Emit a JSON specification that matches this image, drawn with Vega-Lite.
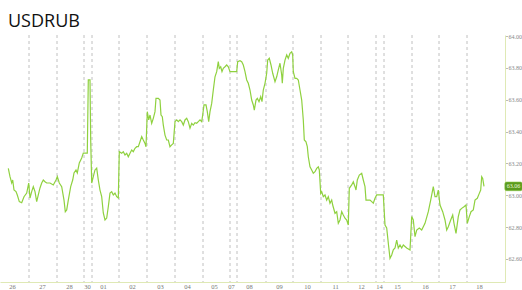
{
  "$schema": "https://vega.github.io/schema/vega-lite/v6.json",
  "width": 505,
  "height": 247,
  "autosize": "none",
  "padding": {"left": 0, "top": 35, "right": 17, "bottom": 8},
  "background": "white",
  "config": {"view": {"stroke": null}, "axis": {"grid": false, "labelOverlap": false, "labelFlush": false}},
  "title": {"text": "USDRUB", "anchor": "start", "font": "Open Sans", "fontSize": 18, "fontWeight": "normal", "color": "#111111", "baseline": "alphabetic", "offset": 9, "dx": 8, "dy": 21},
  "datasets": {
    "days": [{"t": 29}, {"t": 57}, {"t": 84}, {"t": 92}, {"t": 119}, {"t": 147}, {"t": 175}, {"t": 203}, {"t": 230}, {"t": 237}, {"t": 266}, {"t": 293}, {"t": 321}, {"t": 348}, {"t": 376}, {"t": 384}, {"t": 412}, {"t": 439}, {"t": 467}],
    "usdrub": [
      {"t": 8.3, "v": 63.169}, {"t": 10, "v": 63.117}, {"t": 11.7, "v": 63.077}, {"t": 12.7, "v": 63.096}, {"t": 14, "v": 63.033},
      {"t": 16, "v": 63.023}, {"t": 17.3, "v": 63.002}, {"t": 19.3, "v": 62.96}, {"t": 21.7, "v": 62.953}, {"t": 24, "v": 62.991},
      {"t": 26.7, "v": 63.014}, {"t": 28.7, "v": 63.077}, {"t": 30, "v": 62.983}, {"t": 31.7, "v": 63.023}, {"t": 33.3, "v": 63.054},
      {"t": 35, "v": 63.023}, {"t": 36.7, "v": 62.96}, {"t": 38.3, "v": 63.002}, {"t": 40, "v": 63.046}, {"t": 41.7, "v": 63.077},
      {"t": 43.3, "v": 63.096}, {"t": 45, "v": 63.085}, {"t": 46.7, "v": 63.077}, {"t": 50, "v": 63.077}, {"t": 53.3, "v": 63.065},
      {"t": 56, "v": 63.096}, {"t": 57.3, "v": 63.117}, {"t": 59.3, "v": 63.077}, {"t": 61.7, "v": 63.054}, {"t": 64, "v": 62.97},
      {"t": 65.3, "v": 62.897}, {"t": 66.7, "v": 62.908}, {"t": 68.3, "v": 62.97}, {"t": 70.7, "v": 63.054}, {"t": 72.7, "v": 63.096},
      {"t": 74, "v": 63.14}, {"t": 76, "v": 63.159}, {"t": 77.3, "v": 63.14}, {"t": 79.3, "v": 63.203}, {"t": 81.7, "v": 63.234},
      {"t": 83.3, "v": 63.265}, {"t": 87.3, "v": 63.265}, {"t": 88.3, "v": 63.724}, {"t": 90, "v": 63.724}, {"t": 90.7, "v": 63.347},
      {"t": 91.7, "v": 63.077}, {"t": 93.3, "v": 63.117}, {"t": 95, "v": 63.159}, {"t": 96.7, "v": 63.171}, {"t": 98.3, "v": 63.096},
      {"t": 100, "v": 63.033}, {"t": 101.7, "v": 62.991}, {"t": 103.3, "v": 62.889}, {"t": 105, "v": 62.845}, {"t": 106.7, "v": 62.857},
      {"t": 108.3, "v": 62.928}, {"t": 110, "v": 63.014}, {"t": 111.7, "v": 63.023}, {"t": 113.3, "v": 63.002}, {"t": 115, "v": 63.014},
      {"t": 116.7, "v": 62.991}, {"t": 118.3, "v": 62.983}, {"t": 119.3, "v": 63.274}, {"t": 121.7, "v": 63.264}, {"t": 123.3, "v": 63.274},
      {"t": 125, "v": 63.253}, {"t": 126.7, "v": 63.264}, {"t": 128.3, "v": 63.242}, {"t": 130, "v": 63.264}, {"t": 131.7, "v": 63.284},
      {"t": 133.3, "v": 63.274}, {"t": 135, "v": 63.295}, {"t": 136.7, "v": 63.305}, {"t": 138.3, "v": 63.305}, {"t": 140, "v": 63.336},
      {"t": 141.7, "v": 63.368}, {"t": 143.3, "v": 63.347}, {"t": 145, "v": 63.326}, {"t": 146, "v": 63.305}, {"t": 147.3, "v": 63.525},
      {"t": 148.7, "v": 63.473}, {"t": 150, "v": 63.504}, {"t": 151.7, "v": 63.452}, {"t": 153.3, "v": 63.483}, {"t": 155, "v": 63.525},
      {"t": 156, "v": 63.609}, {"t": 158.3, "v": 63.609}, {"t": 160, "v": 63.598}, {"t": 161, "v": 63.504}, {"t": 162.3, "v": 63.493},
      {"t": 163.3, "v": 63.441}, {"t": 165, "v": 63.378}, {"t": 166.7, "v": 63.347}, {"t": 168.3, "v": 63.347}, {"t": 170, "v": 63.305},
      {"t": 171.7, "v": 63.316}, {"t": 173.3, "v": 63.326}, {"t": 175, "v": 63.462}, {"t": 176.7, "v": 63.473}, {"t": 178.3, "v": 63.462},
      {"t": 180, "v": 63.473}, {"t": 181.7, "v": 63.462}, {"t": 183.3, "v": 63.441}, {"t": 185, "v": 63.473}, {"t": 186.7, "v": 63.483},
      {"t": 188.3, "v": 63.462}, {"t": 190, "v": 63.421}, {"t": 191.7, "v": 63.452}, {"t": 193.3, "v": 63.441}, {"t": 195, "v": 63.456},
      {"t": 196.7, "v": 63.452}, {"t": 198.3, "v": 63.462}, {"t": 200, "v": 63.473}, {"t": 201.7, "v": 63.462}, {"t": 202.7, "v": 63.504},
      {"t": 204, "v": 63.567}, {"t": 206, "v": 63.567}, {"t": 207.3, "v": 63.525}, {"t": 208.7, "v": 63.462}, {"t": 210, "v": 63.525},
      {"t": 211.7, "v": 63.577}, {"t": 213.3, "v": 63.661}, {"t": 215, "v": 63.744}, {"t": 216.7, "v": 63.776}, {"t": 218.3, "v": 63.839},
      {"t": 219.3, "v": 63.797}, {"t": 220.7, "v": 63.807}, {"t": 222, "v": 63.776}, {"t": 223.3, "v": 63.797}, {"t": 225, "v": 63.807},
      {"t": 226.7, "v": 63.818}, {"t": 228.3, "v": 63.807}, {"t": 230, "v": 63.776}, {"t": 236.7, "v": 63.776}, {"t": 237.7, "v": 63.839},
      {"t": 240, "v": 63.845}, {"t": 241.7, "v": 63.839}, {"t": 243.3, "v": 63.818}, {"t": 245, "v": 63.776}, {"t": 246.7, "v": 63.724},
      {"t": 248.3, "v": 63.703}, {"t": 250, "v": 63.661}, {"t": 251.7, "v": 63.598}, {"t": 253.3, "v": 63.567}, {"t": 254.3, "v": 63.535},
      {"t": 256, "v": 63.598}, {"t": 257.3, "v": 63.609}, {"t": 259, "v": 63.588}, {"t": 260.7, "v": 63.619}, {"t": 262, "v": 63.588},
      {"t": 263.3, "v": 63.661}, {"t": 265, "v": 63.703}, {"t": 266.7, "v": 63.766}, {"t": 267.7, "v": 63.849}, {"t": 269.3, "v": 63.86},
      {"t": 271, "v": 63.818}, {"t": 272.7, "v": 63.766}, {"t": 275, "v": 63.713}, {"t": 276.7, "v": 63.744}, {"t": 278.3, "v": 63.787},
      {"t": 280, "v": 63.829}, {"t": 281.7, "v": 63.755}, {"t": 282.3, "v": 63.703}, {"t": 283.3, "v": 63.797}, {"t": 285, "v": 63.849},
      {"t": 286.7, "v": 63.881}, {"t": 288.3, "v": 63.86}, {"t": 290, "v": 63.891}, {"t": 291.7, "v": 63.901}, {"t": 292.7, "v": 63.881},
      {"t": 293.3, "v": 63.776}, {"t": 295, "v": 63.734}, {"t": 296.7, "v": 63.734}, {"t": 298.3, "v": 63.724}, {"t": 300, "v": 63.661},
      {"t": 301.7, "v": 63.598}, {"t": 303.3, "v": 63.473}, {"t": 304.3, "v": 63.347}, {"t": 306, "v": 63.336}, {"t": 307.3, "v": 63.305},
      {"t": 308.3, "v": 63.242}, {"t": 310, "v": 63.179}, {"t": 311.7, "v": 63.159}, {"t": 313.3, "v": 63.138}, {"t": 315, "v": 63.148},
      {"t": 316.7, "v": 63.169}, {"t": 318.3, "v": 63.179}, {"t": 319.3, "v": 63.159}, {"t": 320.7, "v": 63.012}, {"t": 321.7, "v": 63.023},
      {"t": 323.3, "v": 62.991}, {"t": 325, "v": 63.002}, {"t": 326.7, "v": 62.97}, {"t": 328.3, "v": 62.991}, {"t": 330, "v": 62.95},
      {"t": 331.7, "v": 62.97}, {"t": 332.7, "v": 62.939}, {"t": 335, "v": 62.887}, {"t": 336.7, "v": 62.897}, {"t": 338.3, "v": 62.824},
      {"t": 340, "v": 62.845}, {"t": 341.7, "v": 62.897}, {"t": 343.3, "v": 62.876}, {"t": 345, "v": 62.856}, {"t": 346.7, "v": 62.845},
      {"t": 348.3, "v": 62.813}, {"t": 349.3, "v": 63.044}, {"t": 351.7, "v": 63.065}, {"t": 353.3, "v": 63.085}, {"t": 355, "v": 63.054},
      {"t": 356, "v": 63.033}, {"t": 357.3, "v": 63.096}, {"t": 359.3, "v": 63.127}, {"t": 361.7, "v": 63.138}, {"t": 363.3, "v": 63.096},
      {"t": 365, "v": 63.054}, {"t": 366, "v": 62.97}, {"t": 368.3, "v": 62.97}, {"t": 370, "v": 62.97}, {"t": 371.7, "v": 62.96},
      {"t": 373.3, "v": 62.95}, {"t": 375, "v": 62.981}, {"t": 376.7, "v": 63.002}, {"t": 378.3, "v": 63.002}, {"t": 383.3, "v": 63.002},
      {"t": 385, "v": 62.813}, {"t": 386.7, "v": 62.795}, {"t": 388.5, "v": 62.688}, {"t": 390, "v": 62.604}, {"t": 391.7, "v": 62.625},
      {"t": 393.3, "v": 62.657}, {"t": 395, "v": 62.669}, {"t": 396.7, "v": 62.719}, {"t": 398.3, "v": 62.669}, {"t": 400, "v": 62.688},
      {"t": 401.7, "v": 62.669}, {"t": 403.3, "v": 62.688}, {"t": 406.7, "v": 62.669}, {"t": 410, "v": 62.657}, {"t": 411.7, "v": 62.866},
      {"t": 413.3, "v": 62.845}, {"t": 415, "v": 62.74}, {"t": 416.7, "v": 62.782}, {"t": 419.3, "v": 62.795}, {"t": 421.7, "v": 62.782},
      {"t": 425, "v": 62.824}, {"t": 428.3, "v": 62.897}, {"t": 430.7, "v": 62.97}, {"t": 433.3, "v": 63.054}, {"t": 435, "v": 62.991},
      {"t": 436.7, "v": 62.991}, {"t": 438.3, "v": 63.033}, {"t": 440, "v": 62.939}, {"t": 442.7, "v": 62.897}, {"t": 445, "v": 62.845},
      {"t": 446.7, "v": 62.782}, {"t": 448.3, "v": 62.803}, {"t": 450.7, "v": 62.845}, {"t": 452.7, "v": 62.876}, {"t": 454, "v": 62.824},
      {"t": 456, "v": 62.761}, {"t": 458.3, "v": 62.866}, {"t": 460, "v": 62.908}, {"t": 461.7, "v": 62.918}, {"t": 464, "v": 62.928},
      {"t": 466, "v": 62.939}, {"t": 467.3, "v": 62.824}, {"t": 469.3, "v": 62.866}, {"t": 471, "v": 62.897}, {"t": 473.3, "v": 62.908},
      {"t": 475, "v": 62.97}, {"t": 477.3, "v": 62.981}, {"t": 479.3, "v": 63.012}, {"t": 480.7, "v": 63.033}, {"t": 481.7, "v": 63.117},
      {"t": 482.7, "v": 63.106}, {"t": 484, "v": 63.056}
    ]
  },
  "layer": [
    {
      "data": {"name": "days"},
      "mark": {"type": "rule", "color": "#b0b0b0", "strokeDash": [3, 3], "strokeWidth": 0.8},
      "encoding": {"x": {"field": "t", "type": "quantitative", "scale": {"domain": [0, 505], "nice": false, "zero": false}}}
    },
    {
      "data": {"name": "usdrub"},
      "mark": {"type": "line", "color": "#8fd13f", "strokeWidth": 1.2},
      "encoding": {
        "x": {"field": "t", "type": "quantitative", "scale": {"domain": [0, 505], "nice": false, "zero": false},
          "axis": {"title": null, "orient": "bottom", "tickCount": 40, "values": [12, 42, 69, 87, 103, 132, 160, 187, 214, 231, 249, 279, 307, 335, 361, 379, 397, 425, 452, 479],
            "labelExpr": "['26','27','28','30','01','02','03','04','05','07','08','09','10','11','12','14','15','16','17','18'][indexof([12,42,69,87,103,132,160,187,214,231,249,279,307,335,361,379,397,425,452,479], datum.value)]",
            "ticks": false, "labelOverlap": false, "labelFlush": false, "labelFont": "Liberation Serif", "labelFontSize": 6.5, "labelColor": "#777777", "labelPadding": 1, "domainColor": "#dfe9b5", "domainWidth": 1}},
        "y": {"field": "v", "type": "quantitative", "scale": {"domain": [62.4556, 64.0063], "nice": false, "zero": false},
          "axis": {"title": null, "orient": "right", "tickCount": 20, "values": [62.6, 62.8, 63.0, 63.2, 63.4, 63.6, 63.8, 64.0], "format": ".2f",
            "labelOverlap": false, "labelFlush": false,
            "tickSize": 2.5, "tickColor": "#aaaaaa", "tickWidth": 0.8, "labelFont": "Liberation Serif", "labelFontSize": 6, "labelColor": "#888888", "labelPadding": 0.5, "domainColor": "#dfe9b5", "domainWidth": 1}}
      }
    },
    {
      "data": {"name": "usdrub"},
      "transform": [{"filter": "datum.t == 484"}],
      "mark": {"type": "point", "shape": "M-0.8,-0.5L0.8,-0.5Q1,-0.5,1,-0.3L1,0.3Q1,0.5,0.8,0.5L-0.8,0.5Q-1,0.5,-1,0.3L-1,-0.3Q-1,-0.5,-0.8,-0.5Z", "size": 300, "filled": true, "color": "#5a9a1e", "opacity": 1, "stroke": "#86c43e", "strokeWidth": 0.6, "xOffset": 29.5},
      "encoding": {"x": {"field": "t", "type": "quantitative"}, "y": {"field": "v", "type": "quantitative"}}
    },
    {
      "data": {"name": "usdrub"},
      "transform": [{"filter": "datum.t == 484"}],
      "mark": {"type": "text", "font": "Liberation Serif", "fontSize": 6, "color": "#eaf6d6", "align": "center", "baseline": "middle", "xOffset": 29.5},
      "encoding": {"x": {"field": "t", "type": "quantitative"}, "y": {"field": "v", "type": "quantitative"}, "text": {"field": "v", "type": "quantitative", "format": ".2f"}}
    }
  ]
}
